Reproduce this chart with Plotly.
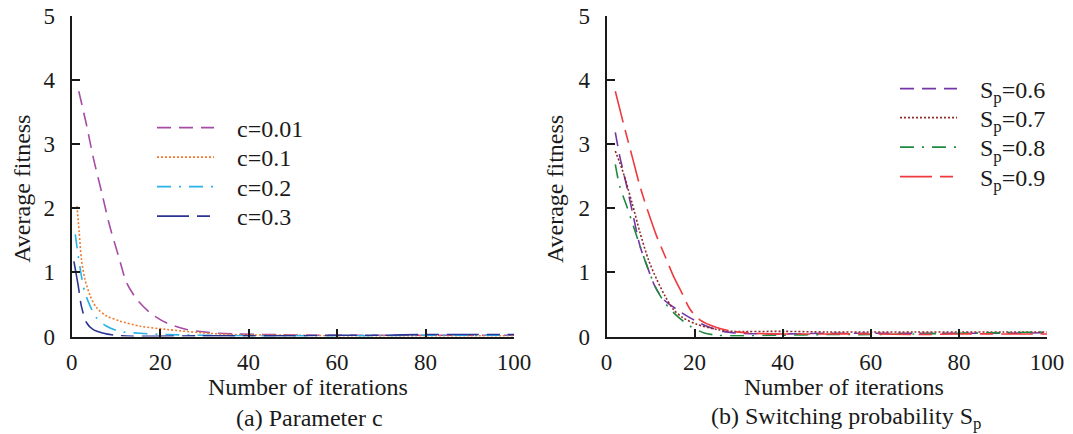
import plotly.graph_objects as go

# ---- (a) parameter c ----
it_c001 = [1.6, 3.4, 4.8, 6.8, 8.6, 10.6, 12.4, 14.7, 17.7, 21.5, 26.0, 31.3, 36.6, 45, 55, 65, 75, 85, 100]
fit_c001 = [3.82, 3.28, 2.81, 2.24, 1.72, 1.25, 0.84, 0.58, 0.37, 0.21, 0.11, 0.06, 0.04, 0.03, 0.02, 0.02, 0.02, 0.02, 0.02]

it_c01 = [1.2, 1.7, 2.2, 3.0, 4.2, 5.6, 7.9, 10.9, 15.5, 21.5, 29.0, 36.4, 50, 60, 70, 80, 90, 100]
fit_c01 = [2.03, 1.62, 1.2, 0.89, 0.63, 0.45, 0.32, 0.24, 0.16, 0.11, 0.06, 0.03, 0.02, 0.01, 0.01, 0.01, 0.01, 0.01]

it_c02 = [0.8, 1.5, 2.2, 3.0, 4.2, 5.6, 7.9, 10.9, 15.5, 21.5, 28.7, 40, 50, 60, 70, 80, 90, 100]
fit_c02 = [1.59, 1.25, 0.94, 0.68, 0.47, 0.29, 0.16, 0.08, 0.05, 0.03, 0.02, 0.01, 0.01, 0.01, 0.01, 0.02, 0.02, 0.02]

it_c03 = [0.5, 1.5, 2.2, 3.4, 4.8, 7.2, 10.2, 13.9, 19.0, 28.7, 40, 50, 60, 70, 80, 90, 100]
fit_c03 = [1.17, 0.78, 0.47, 0.21, 0.11, 0.05, 0.016, 0.005, 0.005, 0.01, 0.01, 0.01, 0.02, 0.02, 0.03, 0.03, 0.03]

# ---- (b) switching probability Sp ----
it_s06 = [2.0, 3.0, 4.6, 6.1, 7.6, 9.2, 11.0, 12.9, 16.0, 19.0, 22.8, 26.5, 30.5, 40, 50, 60, 70, 80, 90, 100]
fit_s06 = [3.18, 2.81, 2.34, 1.87, 1.41, 1.1, 0.78, 0.58, 0.42, 0.29, 0.16, 0.08, 0.05, 0.04, 0.05, 0.05, 0.05, 0.05, 0.05, 0.06]

it_s07 = [2.0, 3.8, 5.8, 7.6, 9.5, 11.4, 13.3, 15.2, 17.4, 20.5, 25.0, 28.6, 40, 50, 60, 70, 80, 90, 100]
fit_s07 = [2.89, 2.55, 2.08, 1.62, 1.2, 0.89, 0.63, 0.42, 0.29, 0.19, 0.11, 0.08, 0.08, 0.07, 0.07, 0.07, 0.07, 0.07, 0.07]

it_s08 = [2.0, 3.0, 4.6, 6.1, 7.6, 9.5, 11.4, 13.3, 16.0, 19.0, 22.0, 25.0, 28.6, 40, 50, 60, 70, 80, 90, 100]
fit_s08 = [2.68, 2.34, 2.03, 1.72, 1.41, 1.04, 0.73, 0.52, 0.32, 0.16, 0.06, 0.02, 0.01, 0.02, 0.03, 0.03, 0.04, 0.05, 0.06, 0.07]

it_s09 = [2.0, 3.8, 5.8, 7.6, 9.5, 11.4, 13.3, 15.2, 17.1, 19.0, 21.2, 25.0, 28.6, 33.4, 40, 50, 60, 70, 80, 90, 100]
fit_s09 = [3.82, 3.33, 2.81, 2.34, 1.93, 1.56, 1.25, 0.94, 0.68, 0.42, 0.26, 0.14, 0.08, 0.05, 0.04, 0.04, 0.04, 0.03, 0.04, 0.04, 0.04]

x_ticks = [0, 20, 40, 60, 80, 100]
y_ticks = [0, 1, 2, 3, 4, 5]

W, H = 1073, 434
FONT = "Liberation Serif, Times New Roman, serif"
INK = "#1a1a1a"

LONG_SHORT = "32px,8px,13px,8px"
DASH = "14px,8px"
DOT = "2px,2px"
DASH_DOT = "14px,8px,2px,8px"

def px_x(p):
    return p / W

def px_y(p):
    return 1 - p / H

# (x, y, name, colour, dash, x-axis, y-axis, legend anchor x/y in pixels)
series = [
    (it_c001, fit_c001, "c=0.01", "#A64CA6", DASH, "x", "y", 152, 128),
    (it_c01, fit_c01, "c=0.1", "#F2792A", DOT, "x", "y", 152, 157.5),
    (it_c02, fit_c02, "c=0.2", "#27B2EA", DASH_DOT, "x", "y", 152, 187),
    (it_c03, fit_c03, "c=0.3", "#2B3593", LONG_SHORT, "x", "y", 152, 216.5),
    (it_s06, fit_s06, "S<sub>p</sub>=0.6", "#7436A6", DASH, "x2", "y2", 895, 89),
    (it_s07, fit_s07, "S<sub>p</sub>=0.7", "#8E2A2A", DOT, "x2", "y2", 895, 118),
    (it_s08, fit_s08, "S<sub>p</sub>=0.8", "#1F8A3F", DASH_DOT, "x2", "y2", 895, 147.5),
    (it_s09, fit_s09, "S<sub>p</sub>=0.9", "#EE3A3E", LONG_SHORT, "x2", "y2", 895, 177),
]

fig = go.Figure()
legends = {}
for i, (xs, ys, name, col, dash, xa, ya, lx, ly) in enumerate(series):
    key = "legend" if i == 0 else f"legend{i + 1}"
    fig.add_trace(go.Scatter(
        x=xs, y=ys, mode="lines", name="\u00a0\u00a0\u00a0" + name,
        line=dict(color=col, width=1.6, dash=dash, shape="spline", smoothing=0.8),
        xaxis=xa, yaxis=ya, legend=key,
    ))
    legends[key] = dict(
        x=px_x(lx), y=px_y(ly), xanchor="left", yanchor="middle",
        bgcolor="rgba(0,0,0,0)", font=dict(family=FONT, size=24, color=INK),
        itemwidth=57, tracegroupgap=0,
    )

axis_common = dict(
    showline=True, linecolor=INK, linewidth=2,
    ticks="inside", ticklen=8, tickwidth=2, tickcolor=INK,
    showgrid=False, zeroline=False, automargin=False,
    tickfont=dict(family=FONT, size=23, color=INK),
)

Y_DOM = [px_y(336.5), px_y(15.5)]

fig.update_layout(
    width=W, height=H,
    margin=dict(l=0, r=0, t=0, b=0, pad=0, autoexpand=False),
    paper_bgcolor="white", plot_bgcolor="white",
    font=dict(family=FONT, size=24, color=INK),
    xaxis=dict(domain=[px_x(71.7), px_x(514)], range=[0, 100], tickvals=x_ticks,
               anchor="y", ticklabelstandoff=4, **axis_common),
    yaxis=dict(domain=Y_DOM, range=[0, 5], tickvals=y_ticks,
               anchor="x", ticklabelstandoff=10, **axis_common),
    xaxis2=dict(domain=[px_x(606.5), px_x(1047)], range=[0, 100], tickvals=x_ticks,
                anchor="y2", ticklabelstandoff=4, **axis_common),
    yaxis2=dict(domain=Y_DOM, range=[0, 5], tickvals=y_ticks,
                anchor="x2", ticklabelstandoff=10, **axis_common),
    showlegend=True,
    **legends,
)

annotations = [
    ("Average fitness", 21.7, 189, -90),
    ("Average fitness", 555, 189, -90),
    ("Number of iterations", 307.5, 387, 0),
    ("Number of iterations", 844, 387, 0),
    ("(a) Parameter c", 309.5, 418, 0),
    ("(b) Switching probability S<sub>p</sub>", 846, 418, 0),
]
for text, ax, ay, ang in annotations:
    fig.add_annotation(
        text=text, x=px_x(ax), y=px_y(ay), xref="paper", yref="paper",
        xanchor="center", yanchor="middle", showarrow=False, textangle=ang,
        font=dict(family=FONT, size=24, color=INK),
    )

fig.write_html("out.html")
